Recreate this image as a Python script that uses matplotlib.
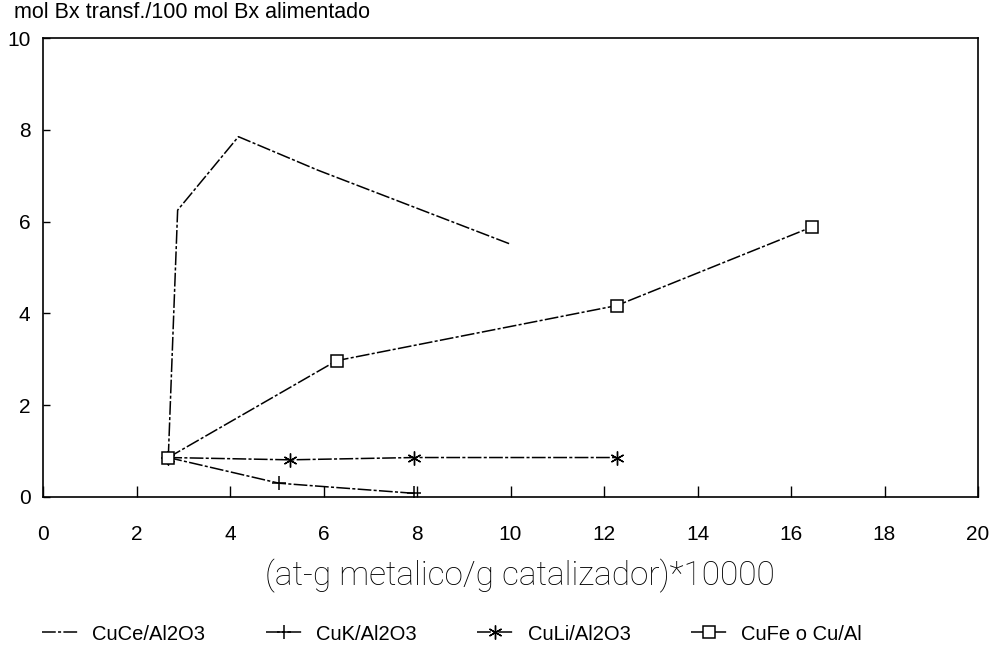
import matplotlib
matplotlib.use("Agg")
import matplotlib.pyplot as plt

plt.rcParams['font.family'] = ['Liberation Sans', 'DejaVu Sans']

# Data
cuce_x = [2.68, 2.88, 4.18, 5.88, 9.97]
cuce_y = [0.86, 6.25, 7.85, 7.12, 5.52]

cuk_x = [2.68, 5.05, 7.94]
cuk_y = [0.86, 0.30, 0.08]

culi_x = [2.68, 5.28, 7.94, 12.28]
culi_y = [0.86, 0.81, 0.86, 0.86]

cufe_x = [2.68, 6.28, 12.27, 16.44]
cufe_y = [0.86, 2.97, 4.17, 5.88]

labels = ["CuCe/Al2O3", "CuK/Al2O3", "CuLi/Al2O3", "CuFe o Cu/Al"]
xticks = [0, 2, 4, 6, 8, 10, 12, 14, 16, 18, 20]
yticks = [0, 2, 4, 6, 8, 10]

fig = plt.figure(figsize=(9.95, 6.52), dpi=100)
ax = fig.add_axes([43/995, 1 - 497/652, (978 - 43)/995, (497 - 38)/652])

ls = (0, (9, 1.5, 2, 1.5))
lw = 1.1
ax.plot(cuce_x, cuce_y, color='black', lw=lw, ls=ls, label=labels[0])
ax.plot(cuk_x, cuk_y, color='black', lw=lw, ls=ls, marker='+', ms=10, mew=1.1, label=labels[1])
ax.plot(culi_x, culi_y, color='black', lw=lw, ls=ls, marker=(6, 2, 0), ms=10, mew=1.0, label=labels[2])
ax.plot(cufe_x, cufe_y, color='black', lw=lw, ls=ls, marker='s', ms=8, mfc='white', mec='black', mew=1.1, label=labels[3])

ax.set_xlim(0, 20)
ax.set_ylim(0, 10)
ax.set_xticks(xticks)
ax.set_yticks(yticks)
ax.tick_params(axis='x', direction='in', length=8, width=1, pad=20, labelsize=15)
ax.tick_params(axis='y', direction='in', length=5, width=1, pad=9, labelsize=15)
for s in ax.spines.values():
    s.set_linewidth(1.2)
    s.set_color('black')

fig.text(14/995, 1 - 13/652, "mol Bx transf./100 mol Bx alimentado", ha='left', va='center', fontsize=15.5)
fig.text(520/995, 1 - 576/652, "(at-g metalico/g catalizador)*10000", ha='center', va='center',
         fontsize=24, family=['Roboto', 'DejaVu Sans'], fontweight='light')

fig.legend(loc='center', bbox_to_anchor=(452/995, 1 - 634/652), ncol=4, frameon=False,
           fontsize=14.5, handlelength=1.8, columnspacing=3.0, handletextpad=0.7)

fig.savefig("out.png", dpi=100)
